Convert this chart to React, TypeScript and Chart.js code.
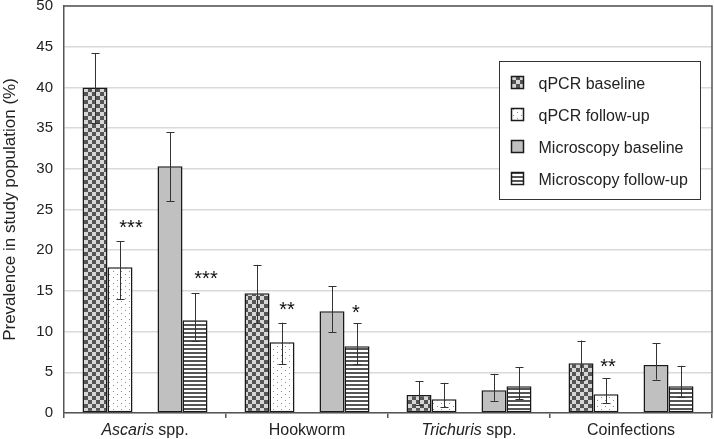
import React, { useEffect, useRef } from 'react';
import { Chart, registerables } from 'chart.js';

Chart.register(...registerables);

// ---------- data ----------
const categoryItalic = ['Ascaris', '', 'Trichuris', ''];
const categoryPlain = [' spp.', 'Hookworm', ' spp.', 'Coinfections'];
const categories = categoryItalic.map((s, i) => s + categoryPlain[i]);

const seriesNames = ['qPCR baseline', 'qPCR follow-up', 'Microscopy baseline', 'Microscopy follow-up'];

const qpcrBaseline = [40.0, 14.7, 2.2, 6.1];
const qpcrBaselineLow = [35.6, 11.1, 1.0, 4.1];
const qpcrBaselineHigh = [44.2, 18.2, 3.9, 8.9];

const qpcrFollowup = [17.9, 8.7, 1.7, 2.3];
const qpcrFollowupLow = [14.0, 6.0, 0.7, 1.2];
const qpcrFollowupHigh = [21.1, 11.1, 3.7, 4.3];

const microBaseline = [30.3, 12.5, 2.8, 5.9];
const microBaselineLow = [26.0, 9.9, 1.5, 4.1];
const microBaselineHigh = [34.5, 15.6, 4.8, 8.6];

const microFollowup = [11.4, 8.2, 3.3, 3.3];
const microFollowupLow = [8.9, 6.0, 1.7, 2.0];
const microFollowupHigh = [14.7, 11.0, 5.6, 5.8];

const yTicks = [0, 5, 10, 15, 20, 25, 30, 35, 40, 45, 50];

// significance markers
const sigCategory = [0, 0, 1, 1, 3];
const sigSeries = [1, 3, 1, 3, 1];
const sigLabel = ['***', '***', '**', '*', '**'];
const sigValue = [23.2, 16.9, 13.1, 12.8, 6.2];

// ---------- styles ----------
const sigOffsetX = [11, 11, 5, -1, 2];
const FONT = '"Liberation Sans", Arial, sans-serif';
const DARK = '#222222';
const AXIS = '#555555';

function makePattern(kind: string): CanvasPattern | string {
  const c = document.createElement('canvas');
  const ctx = c.getContext('2d');
  if (!ctx) return '#ccc';
  if (kind === 'checker') {
    c.width = 8; c.height = 8;
    ctx.fillStyle = '#d6d6d6';
    ctx.fillRect(0, 0, 8, 8);
    ctx.fillStyle = '#555555';
    ctx.fillRect(0, 0, 4, 4);
    ctx.fillRect(4, 4, 4, 4);
  } else if (kind === 'dots') {
    c.width = 8; c.height = 6;
    ctx.fillStyle = '#ffffff';
    ctx.fillRect(0, 0, 8, 6);
    ctx.fillStyle = '#8c8c8c';
    ctx.fillRect(1, 1, 1, 1);
    ctx.fillRect(5, 4, 1, 1);
  } else if (kind === 'stripes') {
    c.width = 4; c.height = 4;
    ctx.fillStyle = '#ffffff';
    ctx.fillRect(0, 0, 4, 4);
    ctx.fillStyle = '#555555';
    ctx.fillRect(0, 0, 4, 2);
  } else {
    return '#c0c0c0';
  }
  return ctx.createPattern(c, 'repeat') || '#ccc';
}

export default function App() {
  const ref = useRef<HTMLCanvasElement | null>(null);

  useEffect(() => {
    document.body.style.margin = '0';
    const canvas = ref.current;
    if (!canvas) return;

    const fills = [makePattern('checker'), makePattern('dots'), makePattern('solid'), makePattern('stripes')];
    const series = [
      { name: seriesNames[0], values: qpcrBaseline, low: qpcrBaselineLow, high: qpcrBaselineHigh, fill: fills[0] },
      { name: seriesNames[1], values: qpcrFollowup, low: qpcrFollowupLow, high: qpcrFollowupHigh, fill: fills[1] },
      { name: seriesNames[2], values: microBaseline, low: microBaselineLow, high: microBaselineHigh, fill: fills[2] },
      { name: seriesNames[3], values: microFollowup, low: microFollowupLow, high: microFollowupHigh, fill: fills[3] },
    ];
    // dataset index for each series (index 2 is an empty spacer slot)
    const dsIndex = [0, 1, 3, 4];

    const mk = (s: any) => ({
      label: s.name,
      data: s.values,
      backgroundColor: s.fill,
      borderColor: '#1a1a1a',
      borderWidth: 1.5,
      borderSkipped: false,
    });
    const datasets: any[] = [
      mk(series[0]),
      mk(series[1]),
      { label: '', data: categories.map(() => null), backgroundColor: 'transparent', borderWidth: 0 },
      mk(series[2]),
      mk(series[3]),
    ];

    const decor = {
      id: 'decor',
      afterDatasetsDraw(chart: any) {
        const ctx = chart.ctx;
        const y = chart.scales.y;
        // error bars
        ctx.save();
        ctx.strokeStyle = '#333333';
        ctx.lineWidth = 1;
        series.forEach((s, si) => {
          const meta = chart.getDatasetMeta(dsIndex[si]);
          s.values.forEach((_v, ci) => {
            const el = meta.data[ci];
            if (!el) return;
            const x = Math.round(el.x) + 0.5;
            const yh = y.getPixelForValue(s.high[ci]);
            const yl = y.getPixelForValue(s.low[ci]);
            ctx.beginPath();
            ctx.moveTo(x, yh); ctx.lineTo(x, yl);
            ctx.moveTo(x - 4, Math.round(yh) + 0.5); ctx.lineTo(x + 4, Math.round(yh) + 0.5);
            ctx.moveTo(x - 4, Math.round(yl) + 0.5); ctx.lineTo(x + 4, Math.round(yl) + 0.5);
            ctx.stroke();
          });
        });
        // significance stars
        ctx.fillStyle = '#111111';
        ctx.font = `20px ${FONT}`;
        ctx.textAlign = 'center';
        ctx.textBaseline = 'alphabetic';
        sigLabel.forEach((lab, k) => {
          const meta = chart.getDatasetMeta(dsIndex[sigSeries[k]]);
          const el = meta.data[sigCategory[k]];
          const m = ctx.measureText(lab);
          const off = (m.actualBoundingBoxAscent - m.actualBoundingBoxDescent) / 2;
          const yc = y.getPixelForValue(sigValue[k]);
          ctx.fillText(lab, el.x + sigOffsetX[k], yc + off);
        });
        ctx.restore();
      },
      afterDraw(chart: any) {
        const ctx = chart.ctx;
        const ca = chart.chartArea;
        const x = chart.scales.x;
        ctx.save();
        // frame top & right
        ctx.strokeStyle = AXIS;
        ctx.lineWidth = 1.5;
        ctx.beginPath();
        ctx.moveTo(ca.left, ca.top); ctx.lineTo(ca.right, ca.top); ctx.lineTo(ca.right, ca.bottom);
        ctx.stroke();

        // category labels with italic genus names
        ctx.fillStyle = DARK;
        ctx.textBaseline = 'alphabetic';
        ctx.textAlign = 'left';
        categories.forEach((_c, i) => {
          const cx = x.getPixelForValue(i);
          const itFont = `italic 16px ${FONT}`;
          const nFont = `16px ${FONT}`;
          ctx.font = itFont;
          const w1 = categoryItalic[i] ? ctx.measureText(categoryItalic[i]).width : 0;
          ctx.font = nFont;
          const w2 = ctx.measureText(categoryPlain[i]).width;
          let sx = cx - (w1 + w2) / 2;
          const by = ca.bottom + 22;
          if (categoryItalic[i]) {
            ctx.font = itFont;
            ctx.fillText(categoryItalic[i], sx, by);
            sx += w1;
          }
          ctx.font = nFont;
          ctx.fillText(categoryPlain[i], sx, by);
        });

        // legend box
        const bx = Math.round(ca.right - 213) + 0.5;
        const by0 = Math.round(ca.top + 55) + 0.5;
        const bw = 201, bh = 138;
        ctx.fillStyle = '#ffffff';
        ctx.fillRect(bx, by0, bw, bh);
        ctx.strokeStyle = '#333333';
        ctx.lineWidth = 1;
        ctx.strokeRect(bx, by0, bw, bh);
        ctx.font = `16px ${FONT}`;
        series.forEach((s, i) => {
          const cy = by0 + 21 + i * 32.3;
          const sx = Math.round(bx + 11);
          const sy = Math.round(cy - 7);
          ctx.fillStyle = s.fill as any;
          ctx.fillRect(sx, sy, 13, 13);
          ctx.strokeStyle = '#1a1a1a';
          ctx.lineWidth = 1.5;
          ctx.strokeRect(sx + 0.5, sy + 0.5, 12, 12);
          ctx.fillStyle = DARK;
          ctx.fillText(s.name, bx + 39, cy + 6);
        });
        ctx.restore();
      },
    };

    const chart = new Chart(canvas, {
      type: 'bar',
      data: { labels: categories, datasets },
      options: {
        responsive: false,
        animation: false,
        layout: { padding: { top: 6, right: 2, left: 0, bottom: 0 } },
        datasets: { bar: { categoryPercentage: 125 / 162, barPercentage: 1 } },
        plugins: { legend: { display: false }, tooltip: { enabled: false } },
        scales: {
          x: {
            offset: true,
            grid: { display: true, drawOnChartArea: false, drawTicks: true, tickLength: 5, offset: true, color: AXIS, lineWidth: 1.5 },
            border: { display: true, color: AXIS, width: 1.5 },
            ticks: { display: false },
            afterFit: (s: any) => { s.height = 26; },
          },
          y: {
            min: 0,
            max: 50,
            afterBuildTicks: (s: any) => { s.ticks = yTicks.map((v) => ({ value: v })); },
            grid: { color: '#d9d9d9', lineWidth: 1.5, drawTicks: false },
            border: { display: true, color: AXIS, width: 1.5 },
            ticks: { color: DARK, font: { family: FONT, size: 15 }, padding: 11 },
            title: {
              display: true,
              text: 'Prevalence in study population (%)',
              color: DARK,
              font: { family: FONT, size: 17 },
              padding: 0,
            },
            afterFit: (s: any) => { s.width = 64; s.paddingTop = 0; s.paddingBottom = 0; },
          },
        },
      },
      plugins: [decor],
    } as any);

    return () => chart.destroy();
  }, []);

  return (
    <div style={{ width: 714, height: 439, position: 'relative' }}>
      <canvas ref={ref} width={714} height={439} style={{ display: 'block' }} />
    </div>
  );
}
